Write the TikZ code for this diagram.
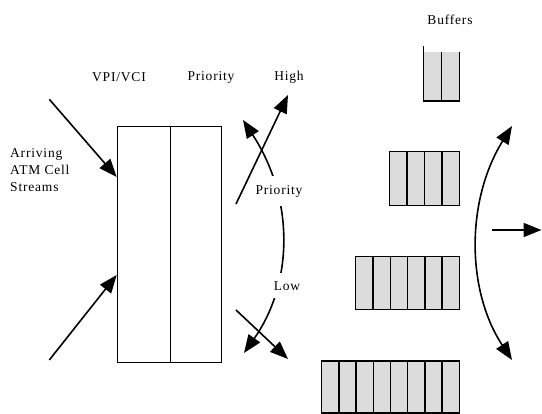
\documentclass[tikz,border=0pt]{standalone}
\usepackage{fontspec}
\setmainfont{Liberation Serif}[LetterSpace=6]
\usetikzlibrary{arrows.meta}
\definecolor{bufgray}{HTML}{DCDCDC}
\begin{document}
\begin{tikzpicture}[x=1pt,y=-1pt,
  lbl/.style={font=\fontsize{13.5}{17}\selectfont, inner sep=1pt},
  arr/.style={line width=1.6pt, -{Triangle[length=18pt,width=14pt]}},
  darr/.style={line width=1.6pt, {Triangle[length=18pt,width=14pt]}-{Triangle[length=18pt,width=14pt]}},
  boxline/.style={line width=1.5pt},
  cell/.style={draw, line width=1.5pt, fill=bufgray}]
\useasboundingbox (0,0) rectangle (542,414);

% main table
\node[boxline, draw, minimum width=53pt, minimum height=236pt, inner sep=0pt, anchor=north west] (vpi) at (116.7,125.7) {};
\node[boxline, draw, minimum width=51pt, minimum height=236pt, inner sep=0pt, anchor=north west] (pri) at (169.5,125.7) {};

% labels
\node[lbl] (lvpi) at (119,77) {VPI/VCI};
\node[lbl] (lpri) at (211,77) {Priority};
\node[lbl] (lhigh) at (289,77) {High};
\node[lbl] (lbuf) at (450,20) {Buffers};
\node[lbl, anchor=west, align=left] (larr) at (9,170) {Arriving\\ATM Cell\\Streams};

% incoming arrows
\coordinate (in1) at (49.3,99.3);
\coordinate (in2) at (49.3,360);
\draw[arr] (in1) -- (vpi.west |- 0,177);
\draw[arr] (in2) -- (vpi.west |- 0,275);

% crossing arrows
\coordinate (h0) at (236,204);
\coordinate (h1) at (288,95);
\coordinate (l0) at (236,310);
\coordinate (l1) at (288,359);
\draw[arr] (h0) -- (h1);
\draw[arr] (l0) -- (l1);

% priority arc with labels
\coordinate (a0) at (243,120);
\coordinate (a1) at (244,353);
\draw[darr] (a0) .. controls (294,198) and (294,282) .. (a1);
\node[lbl, fill=white, minimum height=30pt] (lprio) at (279,191) {Priority};
\node[lbl, fill=white, minimum height=25pt] (llow) at (287,286) {Low};

% buffers
\fill[bufgray] (423.3,51.7) rectangle (459.5,101);
\draw[boxline] (423.3,46) -- (423.3,101) -- (459.5,101) -- (459.5,51.7);
\draw[boxline] (441.4,51.7) -- (441.4,101);
\node[inner sep=0pt, minimum size=0pt] (b1) at (441.4,76) {};

\foreach \i in {0,...,3} {\draw[cell] (389.3+17.55*\i,151.7) rectangle ++(17.55,54);}
\foreach \i in {0,...,5} {\draw[cell] (355.7+17.3*\i,256.7) rectangle ++(17.3,52.6);}
\foreach \i in {0,...,7} {\draw[cell] (321.7+17.2*\i,361) rectangle ++(17.2,52);}

% output arc and arrow
\coordinate (o0) at (512,126);
\coordinate (o1) at (512,360);
\draw[darr] (o0) .. controls (466,200) and (466,290) .. (o1);
\coordinate (s0) at (491.7,230);
\coordinate (s1) at (541.5,230);
\draw[arr] (s0) -- (s1);
\end{tikzpicture}
\end{document}
